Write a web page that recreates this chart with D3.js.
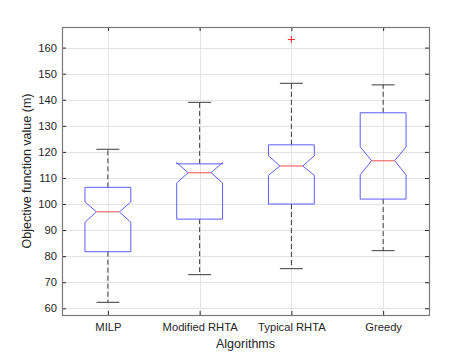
<!DOCTYPE html>
<html>
<head>
<meta charset="utf-8">
<script src="https://cdn.jsdelivr.net/npm/d3@7"></script>
<style>
  html, body { margin: 0; padding: 0; background: #ffffff; }
  svg { display: block; }
  text { font-family: "Liberation Sans", Arial, Helvetica, sans-serif; }
</style>
</head>
<body>
<svg id="chart" width="474" height="355"></svg>
<script>
// ---- data ----
const categories  = ["MILP", "Modified RHTA", "Typical RHTA", "Greedy"];
const whiskerLow  = [62.3, 72.9, 75.2, 82.1];
const q1          = [81.7, 94.2, 100.0, 101.9];
const notchLow    = [93.0, 108.1, 111.0, 111.2];
const medians     = [97.0, 112.0, 114.6, 116.6];
const notchHigh   = [100.8, 115.9, 118.5, 121.9];
const q3          = [106.4, 115.4, 122.7, 135.0];
const whiskerHigh = [121.0, 139.0, 146.3, 145.7];
const outliers    = [[], [], [163.1], []];
const yTicks      = [60, 70, 80, 90, 100, 110, 120, 130, 140, 150, 160];
const yLabel      = "Objective function value (m)";
const xLabel      = "Algorithms";

// ---- layout ----
const plotL = 62, plotR = 429, plotT = 27, plotB = 315;
const svg = d3.select("#chart");

const x = d3.scaleLinear().domain([0.5, categories.length + 0.5]).range([plotL, plotR]);
const y = d3.scaleLinear().domain([57.43, 167.9]).range([plotB, plotT]);

const axisColor = "#262626";
const gridColor = "#e3e3e3";

// grid
const grid = svg.append("g");
grid.selectAll("line.gy").data(yTicks).join("line")
  .attr("x1", plotL).attr("x2", plotR)
  .attr("y1", d => Math.round(y(d)) + 0.5).attr("y2", d => Math.round(y(d)) + 0.5)
  .attr("stroke", gridColor).attr("stroke-width", 1);
grid.selectAll("line.gx").data(categories).join("line")
  .attr("x1", (d, i) => Math.round(x(i + 1)) + 0.5).attr("x2", (d, i) => Math.round(x(i + 1)) + 0.5)
  .attr("y1", plotT).attr("y2", plotB)
  .attr("stroke", gridColor).attr("stroke-width", 1);

// axes via d3 axis generators
const yAxisL = d3.axisLeft(y).tickValues(yTicks).tickSize(-4).tickPadding(5).tickSizeOuter(0);
const yAxisR = d3.axisRight(y).tickValues(yTicks).tickSize(-4).tickFormat("").tickSizeOuter(0);
const xAxisB = d3.axisBottom(x).tickValues(categories.map((d, i) => i + 1))
  .tickFormat((d) => categories[d - 1]).tickSize(-4).tickPadding(8).tickSizeOuter(0);
const xAxisT = d3.axisTop(x).tickValues(categories.map((d, i) => i + 1))
  .tickFormat("").tickSize(-4).tickSizeOuter(0);

function styleAxis(g) {
  g.select(".domain").remove();
  g.selectAll(".tick line").attr("stroke", axisColor).attr("stroke-width", 1);
  g.selectAll(".tick text").attr("fill", axisColor).style("font-size", "11.2px")
    .style("font-family", "'Liberation Sans', Arial, sans-serif");
}
svg.append("g").attr("transform", `translate(${plotL},0)`).call(yAxisL).call(styleAxis);
svg.append("g").attr("transform", `translate(${plotR},0)`).call(yAxisR).call(styleAxis);
svg.append("g").attr("transform", `translate(0,${plotB})`).call(xAxisB).call(styleAxis);
svg.append("g").attr("transform", `translate(0,${plotT})`).call(xAxisT).call(styleAxis);

// axes frame
svg.append("rect")
  .attr("x", plotL + 0.5).attr("y", plotT + 0.5)
  .attr("width", plotR - plotL).attr("height", plotB - plotT)
  .attr("fill", "none").attr("stroke", "#7a7a7a").attr("stroke-width", 1.2);

// boxes
const boxColor = "#5c5cff";
const medColor = "#f26b6b";
const whiskColor = "#3a3a3a";
const halfW = 0.25, notchHalfW = 0.125, capHalf = 0.125;

const boxes = svg.append("g");
categories.forEach((c, i) => {
  const cx = i + 1;
  // whiskers (dashed)
  boxes.append("line")
    .attr("x1", x(cx)).attr("x2", x(cx))
    .attr("y1", y(q3[i])).attr("y2", y(whiskerHigh[i]))
    .attr("stroke", whiskColor).attr("stroke-width", 1).attr("stroke-dasharray", "5,3");
  boxes.append("line")
    .attr("x1", x(cx)).attr("x2", x(cx))
    .attr("y1", y(q1[i])).attr("y2", y(whiskerLow[i]))
    .attr("stroke", whiskColor).attr("stroke-width", 1).attr("stroke-dasharray", "5,3");
  // caps
  [whiskerHigh[i], whiskerLow[i]].forEach(v => {
    boxes.append("line")
      .attr("x1", x(cx - capHalf)).attr("x2", x(cx + capHalf))
      .attr("y1", y(v)).attr("y2", y(v))
      .attr("stroke", whiskColor).attr("stroke-width", 1);
  });
  // notched box
  const pts = [
    [cx - halfW, q1[i]],
    [cx - halfW, notchLow[i]],
    [cx - notchHalfW, medians[i]],
    [cx - halfW, notchHigh[i]],
    [cx - halfW, q3[i]],
    [cx + halfW, q3[i]],
    [cx + halfW, notchHigh[i]],
    [cx + notchHalfW, medians[i]],
    [cx + halfW, notchLow[i]],
    [cx + halfW, q1[i]]
  ];
  const line = d3.line().x(d => x(d[0])).y(d => y(d[1]));
  boxes.append("path")
    .attr("d", line(pts) + "Z")
    .attr("fill", "none").attr("stroke", boxColor).attr("stroke-width", 1);
  // median
  boxes.append("line")
    .attr("x1", x(cx - notchHalfW)).attr("x2", x(cx + notchHalfW))
    .attr("y1", y(medians[i])).attr("y2", y(medians[i]))
    .attr("stroke", medColor).attr("stroke-width", 1.2);
  // outliers
  outliers[i].forEach(v => {
    const px = x(cx), py = y(v), s = 3.5;
    boxes.append("path")
      .attr("d", `M${px - s},${py}H${px + s}M${px},${py - s}V${py + s}`)
      .attr("stroke", "#ff3030").attr("stroke-width", 1).attr("fill", "none");
  });
});

// labels
svg.append("text")
  .attr("x", (plotL + plotR) / 2).attr("y", 348)
  .attr("text-anchor", "middle").attr("fill", axisColor)
  .style("font-size", "12.5px").text(xLabel);
svg.append("text")
  .attr("transform", `translate(31,${(plotT + plotB) / 2}) rotate(-90)`)
  .attr("text-anchor", "middle").attr("fill", axisColor)
  .style("font-size", "12.5px").text(yLabel);
</script>
</body>
</html>
